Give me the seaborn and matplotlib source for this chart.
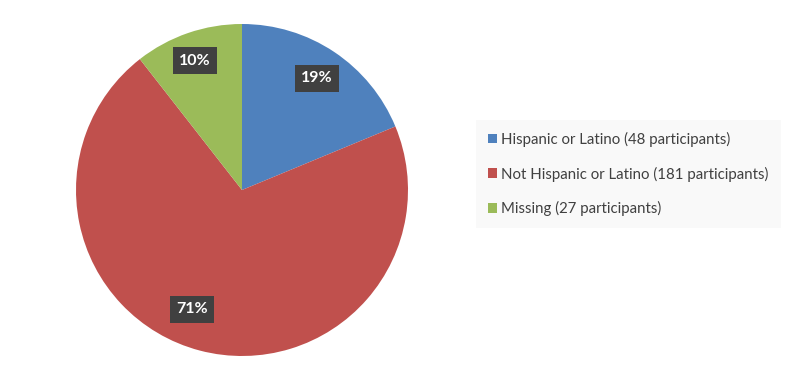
import matplotlib
matplotlib.use("Agg")
import matplotlib.pyplot as plt
import seaborn as sns
import numpy as np
from matplotlib.patches import Patch

categories = ["Hispanic or Latino", "Not Hispanic or Latino", "Missing"]
participants = [48, 181, 27]
pct_labels = ["19%", "71%", "10%"]
colors = ["#4F81BD", "#C0504D", "#9BBB59"]

sns.set_theme(style="white")
plt.rcParams['font.family'] = ['Lato', 'DejaVu Sans']
palette = sns.color_palette(colors)

fig = plt.figure(figsize=(8.12, 3.85), dpi=100)
ax = fig.add_axes([76/812, 29/385, 332/812, 332/385])
wedges, texts = ax.pie(participants, colors=palette, startangle=90, counterclock=False,
                       labels=pct_labels, labeldistance=0.8,
                       wedgeprops=dict(linewidth=0))
# label placement (distance, angle shift in degrees) mimicking the original
label_place = [(0.81, 0.0), (0.78, -8.0), (0.83, 1.0)]
for t, w, (d, shift) in zip(texts, wedges, label_place):
    ang = np.deg2rad((w.theta1 + w.theta2) / 2 + shift)
    t.set_position((d * np.cos(ang), d * np.sin(ang)))
    t.set_ha("center"); t.set_va("center")
    t.set_color("white"); t.set_fontweight("bold"); t.set_fontsize(11.5)
    t.set_bbox(dict(boxstyle="square,pad=0.4", facecolor="#404040", edgecolor="none"))
ax.set_aspect("equal")
ax.set_xlim(-1, 1); ax.set_ylim(-1, 1)

handles = [Patch(facecolor=c, edgecolor="none") for c in palette]
labels = [f"{c} ({n} participants)" for c, n in zip(categories, participants)]
leg = fig.legend(handles, labels, loc="center left", bbox_to_anchor=(476/812, (385-174)/385),
                 frameon=True, facecolor="#F8F8F8", edgecolor="none", fancybox=False,
                 fontsize=10.8, labelcolor="#404040", handlelength=0.6, handleheight=0.6,
                 handletextpad=0.3, labelspacing=1.3, borderpad=0.8, borderaxespad=0)
fig.savefig("out.png", dpi=100, facecolor="white")
